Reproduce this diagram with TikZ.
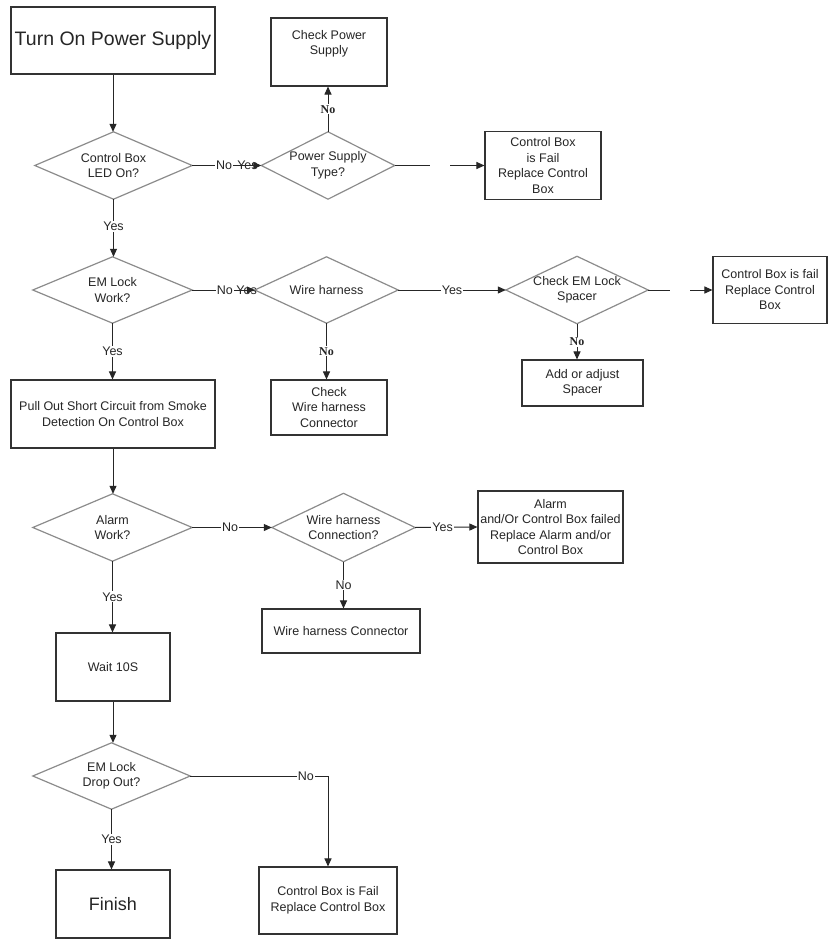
\documentclass[tikz,border=0pt]{standalone}
\usepackage{fontspec}
\setmainfont{Liberation Sans}
\newfontfamily\serifbold{Liberation Serif}
\usetikzlibrary{arrows.meta,calc}
\newcommand\drawdiamond[1]{\draw[diamline] (#1.north) -- (#1.east) -- (#1.south) -- (#1.west) -- cycle;}
\begin{document}
\begin{tikzpicture}[x=1pt,y=-1pt,
  every node/.style={font=\fontsize{12.5}{15.5}\selectfont, align=center, inner sep=0pt, text=black!85},
  box/.style={draw=black!80, line width=1.1pt},
  dtext/.style={},
  diamline/.style={draw=black!45, line width=1.2pt},
  flow/.style={draw=black!85, line width=1pt},
  arr/.style={flow, -{Triangle[length=8pt,width=7pt]}},
  lbl/.style={fill=white, inner sep=1pt},
  lblnf/.style={inner sep=1pt},
  nob/.style={fill=white, inner sep=1pt, font=\serifbold\bfseries\fontsize{12}{14}\selectfont},
]
\fill[white] (0,0) rectangle (834,942);
\useasboundingbox (0,0) rectangle (834,942);

% boxes
\node[box, minimum width=204pt, minimum height=67pt, font=\fontsize{19.5}{22}\selectfont] (start) at (113,40.5) {Turn On Power Supply};
\node[box, minimum width=116pt, minimum height=68pt] (cps) at (329,52) {Check Power\\Supply\\[4pt]};
\node[box, minimum width=116pt, minimum height=68pt] (cbf1) at (543,165.5) {Control Box\\is Fail\\Replace Control\\Box};
\node[box, minimum width=114pt, minimum height=67pt] (cbf2) at (770,290) {Control Box is fail\\Replace Control\\Box};
\node[box, minimum width=121pt, minimum height=46pt] (aas) at (582.5,383) {Add or adjust\\Spacer};
\node[box, minimum width=116pt, minimum height=55pt] (cwh) at (329,407.5) {Check\\Wire harness\\Connector};
\node[box, minimum width=204pt, minimum height=68pt] (pull) at (113,414) {Pull Out Short Circuit from Smoke\\Detection On Control Box};
\node[box, minimum width=145pt, minimum height=72pt] (alb) at (550.5,527) {Alarm\\and/Or Control Box failed\\Replace Alarm and/or\\Control Box};
\node[box, minimum width=158pt, minimum height=44pt] (whcon) at (341,631) {Wire harness Connector};
\node[box, minimum width=114pt, minimum height=68pt] (wait) at (113,667) {Wait 10S};
\node[box, minimum width=114pt, minimum height=68pt, font=\fontsize{18}{21}\selectfont] (fin) at (113,904) {Finish};
\node[box, minimum width=138pt, minimum height=67pt] (cbf3) at (328,900.5) {Control Box is Fail\\Replace Control Box};

% decisions
\node[dtext, minimum width=157pt, minimum height=67pt] (led) at (113.5,165.5) {Control Box\\LED On?};
\node[dtext, minimum width=133pt, minimum height=67pt] (pst) at (328,165.5) {Power Supply\\Type?};
\node[dtext, minimum width=159pt, minimum height=66pt] (emw) at (112.5,290) {EM Lock\\Work?};
\node[dtext, minimum width=143pt, minimum height=66pt] (wh) at (326.5,290) {Wire harness};
\node[dtext, minimum width=142pt, minimum height=67pt] (cems) at (577,290) {Check EM Lock\\Spacer};
\node[dtext, minimum width=159pt, minimum height=67pt] (alw) at (112.5,527.5) {Alarm\\Work?};
\node[dtext, minimum width=143pt, minimum height=68pt] (whc) at (343.5,527.5) {Wire harness\\Connection?};
\node[dtext, minimum width=157pt, minimum height=66pt] (emdo) at (111.5,776) {EM Lock\\Drop Out?};
\drawdiamond{led}
\drawdiamond{pst}
\drawdiamond{emw}
\drawdiamond{wh}
\drawdiamond{cems}
\drawdiamond{alw}
\drawdiamond{whc}
\drawdiamond{emdo}

% free ends of the broken connectors
\coordinate (g1a) at (430,165.5);
\coordinate (g1b) at (450,165.5);
\coordinate (g2a) at (670,290);
\coordinate (g2b) at (690,290);

% connectors
\draw[arr] (start.south) -- (start.south |- led.north);
\draw[arr] (led.east) -- (pst.west) node[lbl, pos=0.46]{No} node[lblnf, pos=0.8]{Yes};
\draw[arr] (pst.north) -- (pst.north |- cps.south) node[nob, midway]{No};
\draw[flow] (pst.east) -- (g1a);
\draw[arr] (g1b) -- (cbf1.west);
\draw[arr] (led.south) -- (led.south |- emw.north) node[lbl, pos=0.47]{Yes};
\draw[arr] (emw.east) -- (wh.west) node[lbl, pos=0.52]{No} node[lblnf, pos=0.87]{Yes};
\draw[arr] (wh.east) -- (cems.west) node[lbl, midway]{Yes};
\draw[flow] (cems.east) -- (g2a);
\draw[arr] (g2b) -- (cbf2.west);
\draw[arr] (cems.south) -- (cems.south |- aas.north) node[nob, midway]{No};
\draw[arr] (wh.south) -- (wh.south |- cwh.north) node[nob, midway]{No};
\draw[arr] (emw.south) -- (emw.south |- pull.north) node[lbl, midway]{Yes};
\draw[arr] (pull.south) -- (pull.south |- alw.north);
\draw[arr] (alw.east) -- (whc.west) node[lbl, pos=0.475]{No};
\draw[arr] (whc.east) -- (alb.west) node[lbl, pos=0.44]{Yes};
\draw[arr] (whc.south) -- (whc.south |- whcon.north) node[lbl, midway]{No};
\draw[arr] (alw.south) -- (alw.south |- wait.north) node[lbl, midway]{Yes};
\draw[arr] (wait.south) -- (wait.south |- emdo.north);
\draw[arr] (emdo.south) -- (emdo.south |- fin.north) node[lbl, midway]{Yes};
\draw[arr] (emdo.east) -| (cbf3.north) node[lbl, pos=0.42]{No};
\end{tikzpicture}
\end{document}
